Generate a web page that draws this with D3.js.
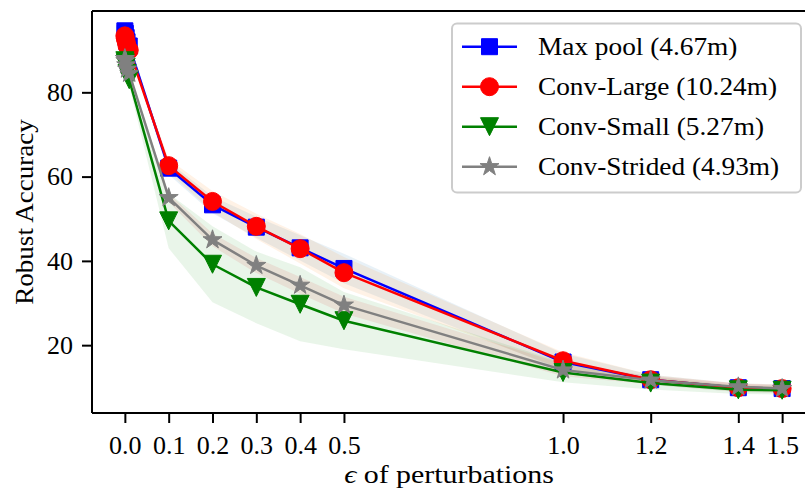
<!DOCTYPE html>
<html>
<head>
<meta charset="utf-8">
<script src="https://cdn.jsdelivr.net/npm/d3@7"></script>
<style>
html, body { margin: 0; padding: 0; background: #fff; }
svg { display: block; }
text { font-family: "Liberation Serif", "DejaVu Serif", serif; fill: #000; }
</style>
</head>
<body>
<svg id="chart" width="805" height="491"></svg>
<script>
// ---- data ----
const eps = [0, 0.001, 0.003, 0.005, 0.01, 0.1, 0.2, 0.3, 0.4, 0.5, 1.0, 1.2, 1.4, 1.5];
const seriesNames = ["Max pool (4.67m)", "Conv-Large (10.24m)", "Conv-Small (5.27m)", "Conv-Strided (4.93m)"];
const maxPool     = [94.6, 94.0, 93.0, 92.0, 91.0, 62.0, 53.3, 48.0, 43.1, 38.2, 16.0, 11.8, 9.9, 9.7];
const convLarge   = [93.4, 92.8, 92.0, 91.0, 90.0, 62.6, 54.1, 48.2, 42.9, 37.2, 16.3, 11.8, 9.9, 9.7];
const convSmall   = [87.5, 87.0, 86.0, 84.5, 83.0, 49.5, 39.2, 33.7, 29.7, 25.8, 13.5, 11.0, 9.4, 9.3];
const convStrided = [88.0, 87.5, 86.5, 85.5, 84.5, 55.0, 45.0, 38.9, 34.2, 29.5, 14.1, 11.7, 10.1, 9.7];
const maxPoolStd     = [0.5, 0.5, 0.5, 0.5, 0.5, 1.5, 2.0, 2.5, 3.0, 3.5, 2.0, 1.2, 1.0, 1.0];
const convLargeStd   = [0.5, 0.5, 0.5, 0.5, 0.5, 1.5, 2.5, 3.0, 3.5, 3.7, 2.0, 1.2, 1.0, 1.0];
const convSmallStd   = [1.0, 1.0, 1.0, 1.5, 1.5, 6.5, 9.0, 8.5, 8.8, 6.8, 2.3, 1.5, 1.0, 1.0];
const convStridedStd = [0.5, 0.5, 0.5, 0.5, 0.5, 1.0, 1.5, 1.8, 2.0, 2.0, 1.5, 1.0, 0.8, 0.8];
const xTicks = [0, 0.1, 0.2, 0.3, 0.4, 0.5, 1.0, 1.2, 1.4, 1.5];
const xTickLabels = ["0.0", "0.1", "0.2", "0.3", "0.4", "0.5", "1.0", "1.2", "1.4", "1.5"];
const yTicks = [20, 40, 60, 80];
const yTickLabels = ["20", "40", "60", "80"];
const xLabel = "of perturbations";
const yLabel = "Robust Accuracy";

// ---- styling ----
const colors = ["#0000ff", "#ff0000", "#008000", "#808080"];
const bandColors = ["#1f77b4", "#ff7f0e", "#2ca02c", "#d62728"];
const markers = ["square", "circle", "triangleDown", "star"];
const allVals = [maxPool, convLarge, convSmall, convStrided];
const allStd = [maxPoolStd, convLargeStd, convSmallStd, convStridedStd];

const pL = 92, pT = 11, pR = 815, pB = 413;
const FS = 25;

const x = d3.scaleLinear().domain([-0.075, 1.575]).range([pL, pR]);
const y = d3.scaleLinear().domain([3.9, 99.3]).range([pB, pT]);

const svg = d3.select("#chart");
svg.append("defs").append("clipPath").attr("id", "clip")
  .append("rect").attr("x", pL).attr("y", pT).attr("width", pR - pL).attr("height", pB - pT);

// custom symbol types
const symSquare = { draw(ctx, s) { const h = s / 2; ctx.moveTo(-h, -h); ctx.lineTo(h, -h); ctx.lineTo(h, h); ctx.lineTo(-h, h); ctx.closePath(); } };
const symCircle = { draw(ctx, s) { const r = s / 2; ctx.moveTo(r, 0); ctx.arc(0, 0, r, 0, 2 * Math.PI); ctx.closePath(); } };
const symTriDown = { draw(ctx, s) { const h = s / 2; ctx.moveTo(0, h); ctx.lineTo(-h, -h); ctx.lineTo(h, -h); ctx.closePath(); } };
const symStar = { draw(ctx, s) {
  const R = s / 2, r = R * 0.381966;
  for (let i = 0; i < 10; i++) {
    const rad = i % 2 === 0 ? R : r;
    const a = -Math.PI / 2 + i * Math.PI / 5;
    const px = rad * Math.cos(a), py = rad * Math.sin(a);
    if (i === 0) ctx.moveTo(px, py); else ctx.lineTo(px, py);
  }
  ctx.closePath();
} };
const symMap = { square: [symSquare, 16], circle: [symCircle, 18], triangleDown: [symTriDown, 18], star: [symStar, 20] };
function symPath(m) { const [t, s] = symMap[m]; return d3.symbol().type(t).size(s)(); }

const plot = svg.append("g").attr("clip-path", "url(#clip)");

// bands
allVals.forEach((vals, i) => {
  const pts = eps.map((e, j) => ({ e, lo: vals[j] - allStd[i][j], hi: vals[j] + allStd[i][j] }));
  const area = d3.area().x(d => x(d.e)).y0(d => y(d.lo)).y1(d => y(d.hi));
  plot.append("path").attr("d", area(pts)).attr("fill", bandColors[i]).attr("fill-opacity", 0.1).attr("stroke", "none");
});

// lines + markers
allVals.forEach((vals, i) => {
  const pts = eps.map((e, j) => ({ e, v: vals[j] }));
  const line = d3.line().x(d => x(d.e)).y(d => y(d.v));
  plot.append("path").attr("d", line(pts)).attr("fill", "none").attr("stroke", colors[i])
    .attr("stroke-width", 2.5).attr("stroke-linejoin", "round");
  plot.selectAll(null).data(pts).enter().append("path")
    .attr("d", symPath(markers[i]))
    .attr("transform", d => `translate(${x(d.e)},${y(d.v)})`)
    .attr("fill", colors[i]).attr("stroke", colors[i]).attr("stroke-width", 1);
});

// axes
const xAxis = d3.axisBottom(x).tickValues(xTicks).tickFormat((d, i) => xTickLabels[i]).tickSize(10).tickSizeOuter(0).tickPadding(8);
const yAxis = d3.axisLeft(y).tickValues(yTicks).tickFormat((d, i) => yTickLabels[i]).tickSize(10).tickSizeOuter(0).tickPadding(9);
const gx = svg.append("g").attr("transform", `translate(0,${pB})`).call(xAxis);
const gy = svg.append("g").attr("transform", `translate(${pL},0)`).call(yAxis);
[gx, gy].forEach(g => {
  g.select(".domain").remove();
  g.selectAll(".tick line").attr("stroke", "#000").attr("stroke-width", 2);
  g.selectAll(".tick text").attr("font-size", FS + 1).attr("font-family", "Liberation Serif, DejaVu Serif, serif").attr("fill", "#000");
});
gx.selectAll(".tick text").attr("dy", "0.9em");
// spines
svg.append("line").attr("x1", pL).attr("x2", pL).attr("y1", pT).attr("y2", pB).attr("stroke", "#000").attr("stroke-width", 2);
svg.append("line").attr("x1", pL).attr("x2", pR).attr("y1", pB).attr("y2", pB).attr("stroke", "#000").attr("stroke-width", 2);
svg.append("line").attr("x1", pL).attr("x2", pR).attr("y1", pT).attr("y2", pT).attr("stroke", "#000").attr("stroke-width", 2);
svg.append("line").attr("x1", pR).attr("x2", pR).attr("y1", pT).attr("y2", pB).attr("stroke", "#000").attr("stroke-width", 2);

// stretch helper to mimic the wider Computer Modern face
function widen(sel, f) {
  const n = sel.node();
  const w = n.getComputedTextLength();
  sel.attr("textLength", w * f).attr("lengthAdjust", "spacingAndGlyphs");
}

// axis labels
const xl = svg.append("text").attr("x", 449).attr("y", 483).attr("text-anchor", "middle").attr("font-size", FS + 1);
xl.append("tspan").attr("font-style", "italic").text("\u03F5");
xl.append("tspan").text(" " + xLabel);
widen(xl, 1.15);
const yl = svg.append("text").attr("transform", `translate(33,${(pT + pB) / 2}) rotate(-90)`)
  .attr("text-anchor", "middle").attr("font-size", FS + 1).text(yLabel);
widen(yl, 1.04);

// legend
const lg = svg.append("g");
lg.append("rect").attr("x", 452).attr("y", 23.5).attr("width", 349).attr("height", 169).attr("rx", 5)
  .attr("fill", "#fff").attr("fill-opacity", 0.8).attr("stroke", "#cccccc").attr("stroke-width", 2);
seriesNames.forEach((name, i) => {
  const cy = 46.7 + i * 40;
  lg.append("line").attr("x1", 462).attr("x2", 517).attr("y1", cy).attr("y2", cy).attr("stroke", colors[i]).attr("stroke-width", 2.5);
  lg.append("path").attr("d", symPath(markers[i])).attr("transform", `translate(489.5,${cy})`).attr("fill", colors[i]).attr("stroke", colors[i]);
  const t = lg.append("text").attr("x", 538).attr("y", cy).attr("dy", "0.33em").attr("font-size", FS + 1).text(name);
  widen(t, 1.05);
});
</script>
</body>
</html>
